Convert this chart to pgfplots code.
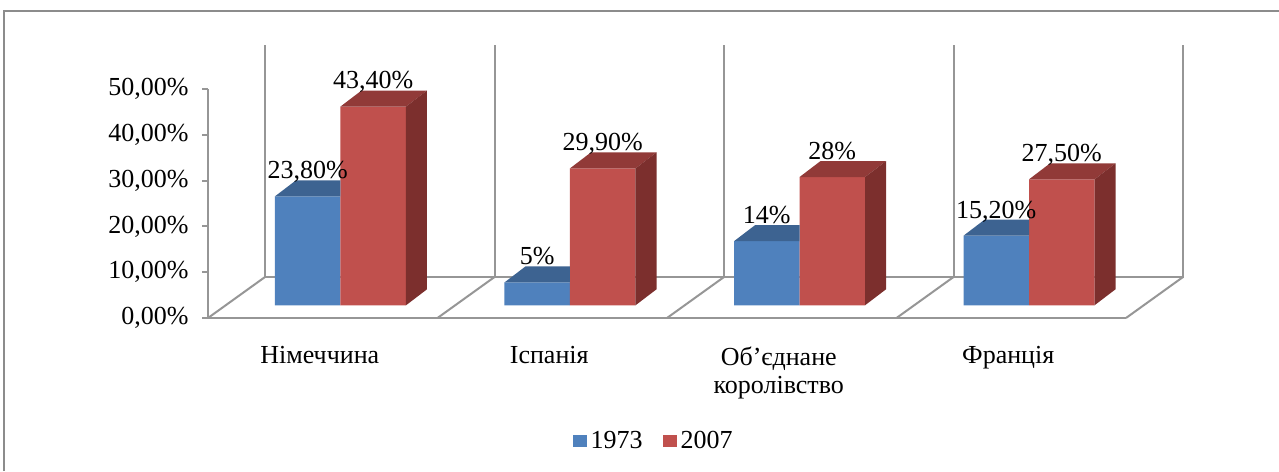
\documentclass[border=0pt]{standalone}
\usepackage{pgfplots}
\usepackage{pgfplotstable}
\pgfplotsset{compat=1.18}
\usepackage{fontspec}
\setmainfont{Liberation Serif}

\definecolor{bfront}{HTML}{4F81BD}
\definecolor{btop}{HTML}{3D6391}
\definecolor{bside}{HTML}{34557D}
\definecolor{rfront}{HTML}{C0504D}
\definecolor{rtop}{HTML}{913A38}
\definecolor{rside}{HTML}{7C2F2D}
\definecolor{gridc}{HTML}{969696}
\definecolor{framec}{HTML}{8C8C8C}

\pgfdeclareplotmark{nothing}{}

% top and side faces of a 3-D bar, drawn at the top of the bar
\newcommand\threedfaces[3]{%
  \pgfmathsetlengthmacro\hh{\h*2.29pt}%
  \pgfmathsetlengthmacro\xl{#1}%
  \pgfmathsetlengthmacro\xr{#1+32.75pt}%
  \pgfpathmoveto{\pgfpoint{\xl}{0pt}}%
  \pgfpathlineto{\pgfpoint{\xr}{0pt}}%
  \pgfpathlineto{\pgfpoint{\xr+10.5pt}{8pt}}%
  \pgfpathlineto{\pgfpoint{\xl+10.5pt}{8pt}}%
  \pgfpathclose
  \pgfsetfillcolor{#2}\pgfusepath{fill}%
  \pgfpathmoveto{\pgfpoint{\xr}{0pt}}%
  \pgfpathlineto{\pgfpoint{\xr+10.5pt}{8pt}}%
  \pgfpathlineto{\pgfpoint{\xr+10.5pt}{8pt-\hh}}%
  \pgfpathlineto{\pgfpoint{\xr}{-\hh}}%
  \pgfpathclose
  \pgfsetfillcolor{#3}\pgfusepath{fill}%
}
% visible part of the top of a front-left bar (the taller bar beside it hides the rest)
\newcommand\threedtopleft[2]{%
  \pgfmathsetlengthmacro\xl{#1}%
  \pgfmathsetlengthmacro\xr{#1+32.75pt}%
  \pgfpathmoveto{\pgfpoint{\xl}{0pt}}%
  \pgfpathlineto{\pgfpoint{\xr}{0pt}}%
  \pgfpathlineto{\pgfpoint{\xr}{8pt}}%
  \pgfpathlineto{\pgfpoint{\xl+10.5pt}{8pt}}%
  \pgfpathclose
  \pgfsetfillcolor{#2}\pgfusepath{fill}%
}

\pgfplotstableread{
x v lab
0 23.8 23,80
1 5 5
2 14 14
3 15.2 15,20
}\tblA
\pgfplotstableread{
x v lab
0 43.4 43,40
1 29.9 29,90
2 28 28
3 27.5 27,50
}\tblB

\pgfplotsset{
  sqlegend/.style={legend image code/.code={\fill[##1,draw=none] (0pt,-3pt) rectangle (7pt,3pt);}},
  faces/.style n args={3}{forget plot, only marks, mark=nothing, scatter,
    visualization depends on={rawy \as \h},
    scatter/@pre marker code/.code={\pgfscope\threedfaces{#1}{#2}{#3}},
    scatter/@post marker code/.code={\endpgfscope}},
  topleft/.style n args={2}{forget plot, only marks, mark=nothing, scatter,
    scatter/@pre marker code/.code={\pgfscope\threedtopleft{#1}{#2}},
    scatter/@post marker code/.code={\endpgfscope}},
  labs/.style={forget plot, only marks, mark=nothing, point meta=explicit symbolic,
    nodes near coords={\pgfplotspointmeta\%},
    every node near coord/.append style={anchor=base, yshift=8.8pt, xshift=#1, font=\fontsize{13}{15}\selectfont, inner sep=0pt}},
}

\begin{document}
\begin{tikzpicture}[font=\fontsize{13}{14}\selectfont]
\useasboundingbox (-104pt,-76.5pt) rectangle (535.5pt,159pt);
\draw[framec, line width=1pt] (-102pt,-76.5pt) -- (-102pt,153.5pt) -- (535.5pt,153.5pt);
\begin{axis}[
  x=114.75pt, y=2.29pt,
  xmin=-0.5, xmax=3.5, ymin=0, ymax=50,
  axis lines*=left,
  axis line style={gridc, line width=1pt},
  clip=false,
  tick align=outside,
  ytick={0,10,20,30,40,50},
  yticklabels={{0,00\%},{10,00\%},{20,00\%},{30,00\%},{40,00\%},{50,00\%}},
  major tick length=2.75pt,
  every tick/.style={gridc, line width=1pt},
  xtick={0,1,2,3},
  xticklabels={Німеччина,Іспанія,{Об’єднане\\королівство},Франція},
  x tick style={draw=none},
  xticklabel style={align=center, yshift=-8pt, xshift=-1.5pt, font=\fontsize{13}{14}\selectfont},
  yticklabel style={xshift=-3.5pt},
]
\addplot[gridc, line width=1pt] coordinates {(-0.2516,59.6) (-0.2516,8.95) (3.7484,8.95) (3.7484,59.6)};
\addplot[gridc, line width=1pt] coordinates {(0.7484,59.6) (0.7484,8.95)};
\addplot[gridc, line width=1pt] coordinates {(1.7484,59.6) (1.7484,8.95)};
\addplot[gridc, line width=1pt] coordinates {(2.7484,59.6) (2.7484,8.95)};
\addplot[gridc, line width=1pt] coordinates {(-0.5,0) (-0.2516,8.95)};
\addplot[gridc, line width=1pt] coordinates {(0.5,0) (0.7484,8.95)};
\addplot[gridc, line width=1pt] coordinates {(1.5,0) (1.7484,8.95)};
\addplot[gridc, line width=1pt] coordinates {(2.5,0) (2.7484,8.95)};
\addplot[gridc, line width=1pt] coordinates {(3.5,0) (3.7484,8.95)};
\end{axis}
\begin{axis}[
  x=114.75pt, y=2.29pt,
  xmin=-0.5773, xmax=3.4227, ymin=-2.77, ymax=47.23,
  hide axis, clip=false,
  bar width=0.2854,
  legend style={at={(0.4864,-0.537)}, anchor=center, draw=none, fill=none,
    legend columns=2, font=\fontsize{13}{15}\selectfont,
    /tikz/every even column/.append style={column sep=8pt}},
]
\addplot[ybar, bar shift=-0.1427, fill=bfront, draw=none, sqlegend] table[x=x,y=v]{\tblA};
\addlegendentry{1973}
\addplot[topleft={-32.75pt}{btop}] table[x=x,y=v]{\tblA};
\addplot[ybar, bar shift=0.1427, fill=rfront, draw=none, sqlegend] table[x=x,y=v]{\tblB};
\addlegendentry{2007}
\addplot[faces={0pt}{rtop}{rside}] table[x=x,y=v]{\tblB};
\addplot[labs=-16.375pt] table[x=x,y=v,meta=lab]{\tblA};
\addplot[labs=16.375pt] table[x=x,y=v,meta=lab]{\tblB};
\end{axis}
\end{tikzpicture}
\end{document}
